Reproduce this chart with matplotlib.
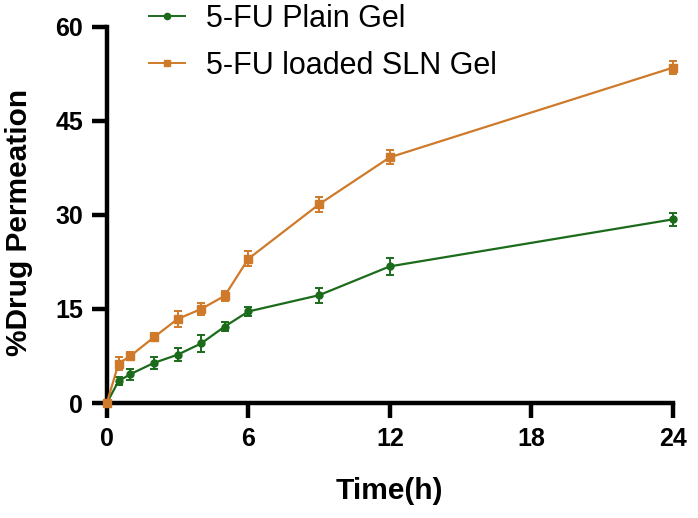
import matplotlib
matplotlib.use("Agg")
import matplotlib.pyplot as plt
from matplotlib.lines import Line2D

time_h = [0, 0.5, 1, 2, 3, 4, 5, 6, 9, 12, 24]
plain_gel = [0, 3.5, 4.6, 6.4, 7.7, 9.5, 12.2, 14.6, 17.2, 21.8, 29.3]
plain_err = [0, 0.7, 0.9, 1.0, 1.0, 1.3, 0.7, 0.7, 1.2, 1.3, 1.0]
sln_gel = [0, 6.3, 7.5, 10.5, 13.4, 15.0, 17.1, 23.0, 31.7, 39.2, 53.5]
sln_err = [0, 1.0, 0.6, 0.6, 1.3, 0.9, 0.8, 1.2, 1.2, 1.1, 1.0]
x_ticks = [0, 6, 12, 18, 24]
y_ticks = [0, 15, 30, 45, 60]
series_labels = ['5-FU Plain Gel', '5-FU loaded SLN Gel']

plt.rcParams['font.family'] = ['Liberation Sans', 'DejaVu Sans']
green = '#1b6b1b'
orange = '#cf7a2a'

fig = plt.figure(figsize=(6.98, 5.18), dpi=100)
ax = fig.add_axes([0.153, 0.222, 0.811, 0.726])

ax.errorbar(time_h, plain_gel, yerr=plain_err, color=green, marker='o', markersize=5,
            linewidth=1.6, capsize=3, elinewidth=1.4, capthick=1.4,
            clip_on=False, zorder=3)
ax.errorbar(time_h, sln_gel, yerr=sln_err, color=orange, marker='s', markersize=5.5,
            linewidth=1.6, capsize=3, elinewidth=1.4, capthick=1.4,
            clip_on=False, zorder=3)

ax.set_xlim(0, 24)
ax.set_ylim(0, 60)
ax.set_xticks(x_ticks)
ax.set_yticks(y_ticks)
for s in ['top', 'right']:
    ax.spines[s].set_visible(False)
for s in ['left', 'bottom']:
    ax.spines[s].set_linewidth(3.2)
ax.tick_params(axis='both', width=3.2, length=11, labelsize=18, direction='out', pad=6)
for lab in ax.get_xticklabels() + ax.get_yticklabels():
    lab.set_fontweight('bold')

ax.set_xlabel('Time(h)', fontsize=21.5, fontweight='bold')
ax.xaxis.label.set_va('top')
ax.xaxis.set_label_coords(0.5, -0.198)
ax.set_ylabel('%Drug Permeation', fontsize=21.5, fontweight='bold')
ax.yaxis.label.set_va('center')
ax.yaxis.set_label_coords(-0.155, 0.48)

handles = [
    Line2D([], [], color=green, marker='o', markersize=4.5, linewidth=1.4),
    Line2D([], [], color=orange, marker='s', markersize=5, linewidth=1.4),
]
fig.legend(handles, series_labels, loc='upper left', bbox_to_anchor=(149 / 698, 0.992),
           frameon=False, fontsize=22, handlelength=1.18, labelspacing=0.55,
           handletextpad=0.7, borderpad=0, borderaxespad=0)

fig.savefig('out.png', dpi=100)
